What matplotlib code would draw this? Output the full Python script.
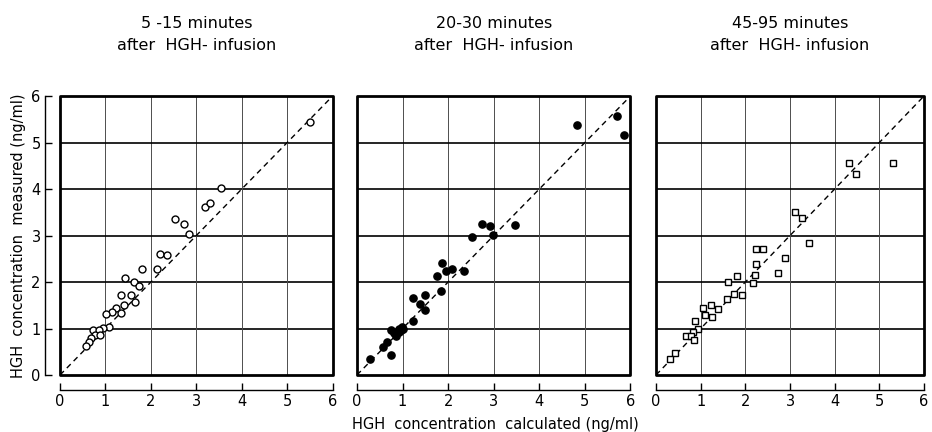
import matplotlib
matplotlib.use("Agg")
import matplotlib.pyplot as plt
from matplotlib.patches import Rectangle

# ---- data (ng/ml) ----
titles = ["5 -15 minutes\nafter  HGH- infusion",
          "20-30 minutes\nafter  HGH- infusion",
          "45-95 minutes\nafter  HGH- infusion"]

early_x = [5.50, 3.55, 3.20, 3.30, 2.52, 2.72, 2.83, 2.20, 2.36, 2.14,
           1.81, 1.43, 1.63, 1.74, 1.34, 1.57, 1.65, 1.40, 1.23, 1.14,
           1.35, 1.01, 1.07, 0.94, 0.72, 0.86, 0.76, 0.87, 0.69, 0.64, 0.57]
early_y = [5.45, 4.02, 3.61, 3.70, 3.36, 3.25, 3.04, 2.60, 2.59, 2.29,
           2.28, 2.09, 1.99, 1.91, 1.72, 1.72, 1.58, 1.50, 1.45, 1.35,
           1.33, 1.31, 1.04, 1.01, 0.97, 0.96, 0.86, 0.86, 0.79, 0.72, 0.63]

mid_x = [4.82, 5.71, 5.85, 3.47, 2.75, 2.92, 2.98, 2.53, 1.86, 1.96,
         2.09, 2.35, 1.75, 1.84, 1.24, 1.49, 1.39, 1.50, 1.23, 0.99,
         0.97, 0.93, 0.82, 0.75, 0.86, 0.75, 0.66, 0.57, 0.29, 0.92, 1.00]
mid_y = [5.37, 5.58, 5.16, 3.23, 3.25, 3.20, 3.01, 2.96, 2.41, 2.24,
         2.28, 2.23, 2.12, 1.81, 1.65, 1.73, 1.53, 1.39, 1.16, 1.04,
         0.97, 0.92, 0.90, 0.96, 0.84, 0.42, 0.72, 0.60, 0.34, 0.99, 1.00]

late_x = [4.33, 4.48, 5.31, 3.11, 3.26, 3.42, 2.23, 2.40, 2.88, 2.24,
          2.73, 1.82, 2.21, 1.62, 2.17, 1.93, 1.74, 1.60, 1.39, 1.22,
          1.06, 1.09, 1.25, 0.88, 0.93, 0.82, 0.68, 0.79, 0.85, 0.43, 0.31]
late_y = [4.56, 4.33, 4.56, 3.50, 3.38, 2.83, 2.70, 2.70, 2.52, 2.38,
          2.19, 2.13, 2.15, 2.00, 1.98, 1.73, 1.75, 1.64, 1.41, 1.50,
          1.44, 1.30, 1.24, 1.17, 0.98, 0.92, 0.83, 0.83, 0.75, 0.48, 0.35]

ticks = [0, 1, 2, 3, 4, 5, 6]

# marker style per panel: (marker, face, size)
MARKERS = [("o", "white", 5.0), ("o", "black", 5.2), ("s", "white", 4.8)]

plt.rcParams["font.family"] = "DejaVu Sans"

fig = plt.figure(figsize=(9.32, 4.32), dpi=100)
# panel boxes in figure fraction: (left, width)
boxes = [(0.0644, 0.2925), (0.383, 0.2935), (0.7039, 0.2875)]
series = [(early_x, early_y), (mid_x, mid_y), (late_x, late_y)]

for i, ((left, width), (xs, ys), title) in enumerate(zip(boxes, series, titles)):
    ax = fig.add_axes([left, 0.1319, width, 0.6458])
    ax.set_xlim(0, 6)
    ax.set_ylim(0, 6)

    # grid: bold horizontals, thin verticals
    for v in ticks[1:-1]:
        ax.axhline(v, color="black", lw=1.2, zorder=1)
        ax.axvline(v, color="0.3", lw=0.7, zorder=1)

    # identity line
    ax.plot([0, 6], [0, 6], color="black", lw=1.0, ls=(0, (4, 3)), zorder=2)

    m, face, ms = MARKERS[i]
    ax.plot(xs, ys, ls="none", marker=m, mfc=face, mec="black",
            ms=ms, mew=1.0, zorder=3)

    # heavy frame
    ax.add_patch(Rectangle((0, 0), 1, 1, transform=ax.transAxes, fill=False,
                           lw=2.0, ec="black", joinstyle="round",
                           clip_on=False, zorder=4))

    for s in ("top", "right"):
        ax.spines[s].set_visible(False)
    ax.spines["bottom"].set_position(("outward", 11))
    ax.spines["bottom"].set_bounds(0, 6)
    ax.spines["bottom"].set_linewidth(1.0)
    ax.set_xticks(ticks)
    ax.tick_params(axis="x", direction="in", length=5, width=1.0,
                   labelsize=10.5, pad=3)

    if i == 0:
        ax.spines["left"].set_position(("outward", 11))
        ax.spines["left"].set_bounds(0, 6)
        ax.spines["left"].set_linewidth(1.0)
        ax.set_yticks(ticks)
        ax.tick_params(axis="y", direction="in", length=5, width=1.0,
                       labelsize=10.5, pad=3)
        ax.set_ylabel("HGH  concentration  measured (ng/ml)", fontsize=10.5,
                      labelpad=4)
    else:
        ax.spines["left"].set_visible(False)
        ax.set_yticks([])

    ax.set_title(title, fontsize=11.5, linespacing=1.6, pad=33)

fig.text(0.531, 0.0, "HGH  concentration  calculated (ng/ml)",
         ha="center", va="bottom", fontsize=10.5)

fig.savefig("out.png", dpi=100)
